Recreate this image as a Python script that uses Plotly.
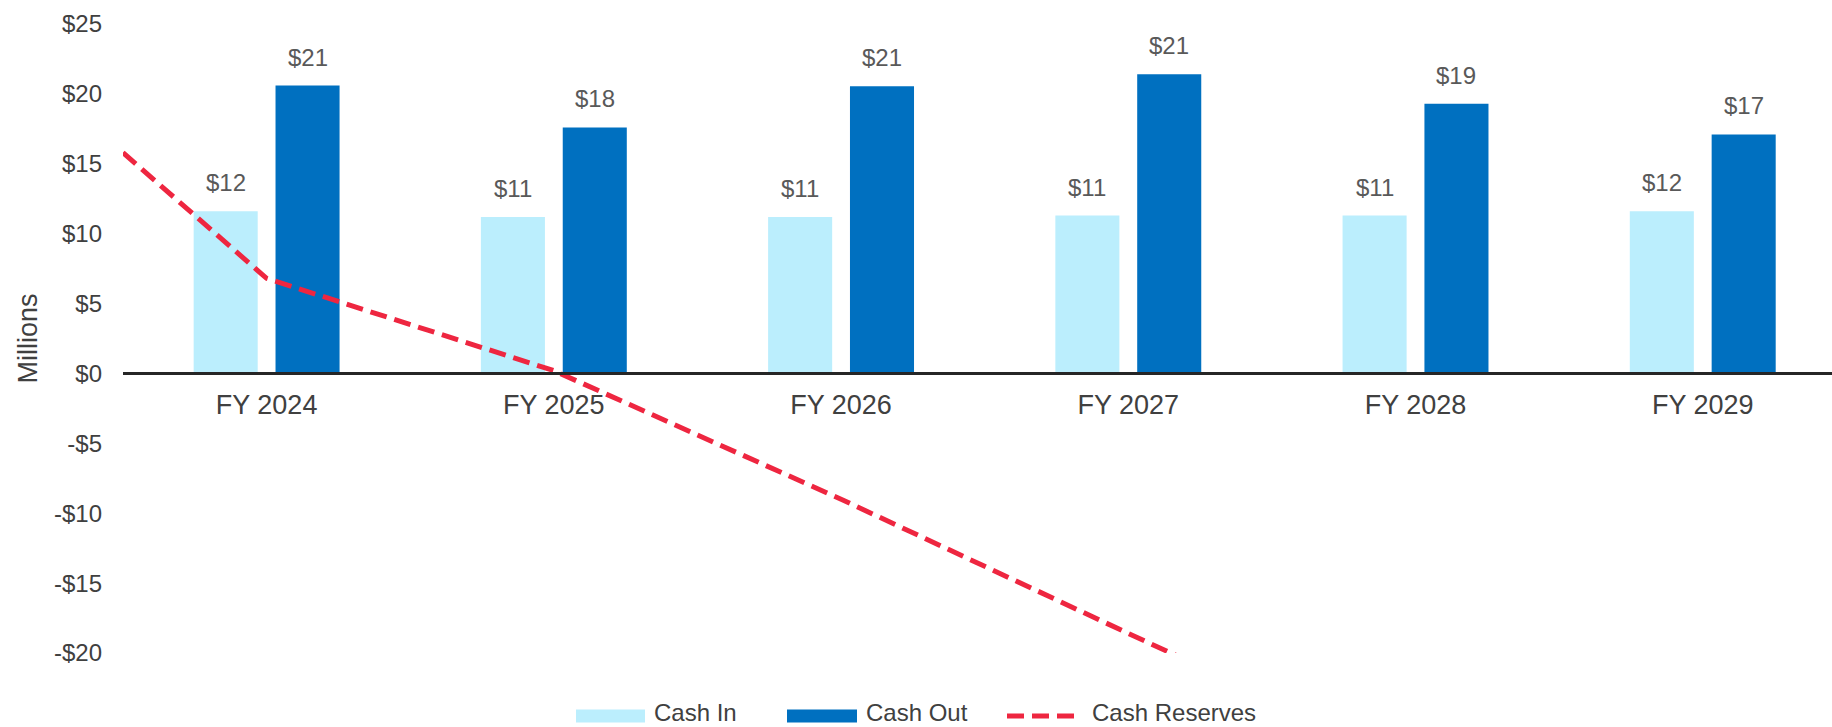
import plotly.graph_objects as go

# ---------------- data ----------------
categories = ["FY 2024", "FY 2025", "FY 2026", "FY 2027", "FY 2028", "FY 2029"]
cash_in = [11.6, 11.2, 11.2, 11.3, 11.3, 11.6]
cash_out = [20.6, 17.6, 20.55, 21.4, 19.3, 17.1]
reserves_x = [-0.5, 0, 1, 2, 3, 4, 5]
reserves = [15.8, 6.8, 0.2, -9.0, -18.6, -28.0, -37.5]
y_tick_vals = [-20, -15, -10, -5, 0, 5, 10, 15, 20, 25]
y_tick_text = ["-$20", "-$15", "-$10", "-$5", "$0", "$5", "$10", "$15", "$20", "$25"]
legend_names = ["Cash In", "Cash Out", "Cash Reserves"]

# ---------------- styles ----------------
W, H = 1832, 727
ML, MR, MT, MB = 123, 0, 23.5, 73.5
FONT = "Liberation Sans, Arial, sans-serif"
C_IN = "#BBEEFD"
C_OUT = "#0070C0"
C_RES = "#EE2640"
TXT = "#404040"
LBL = "#595959"
BAR_W = 0.223
OFF_IN = -0.254
OFF_OUT = 0.031
Y_MIN, Y_MAX = -20, 25

xs = list(range(len(categories)))

fig = go.Figure()
fig.add_trace(go.Bar(x=xs, y=cash_in, name=legend_names[0], marker=dict(color=C_IN, line=dict(width=0)),
                     width=BAR_W, offset=OFF_IN, showlegend=False))
fig.add_trace(go.Bar(x=xs, y=cash_out, name=legend_names[1], marker=dict(color=C_OUT, line=dict(width=0)),
                     width=BAR_W, offset=OFF_OUT, showlegend=False))
fig.add_trace(go.Scatter(x=reserves_x, y=reserves, name=legend_names[2], mode="lines",
                         line=dict(color=C_RES, width=5, dash="17px,8px"), showlegend=False))

annotations = []
for i, (a, b) in enumerate(zip(cash_in, cash_out)):
    for v, off in ((a, OFF_IN), (b, OFF_OUT)):
        annotations.append(dict(x=i + off + BAR_W / 2, y=v, xref="x", yref="y",
                                text="$%d" % int(v + 0.5), showarrow=False, yanchor="bottom",
                                yshift=13, font=dict(family=FONT, size=24, color=LBL)))

plot_w = W - ML - MR
plot_h = H - MT - MB

def px_x(p):
    return (p - ML) / plot_w

def px_y(p):
    return (H - MB - p) / plot_h

# y axis title
annotations.append(dict(x=px_x(27), y=0.5, xref="paper", yref="paper", text="Millions",
                        textangle=-90, showarrow=False, xanchor="center", yanchor="middle",
                        font=dict(family=FONT, size=27, color=TXT)))

# custom legend
shapes = []
leg_y = 716.5
txt_y = 713
shapes.append(dict(type="rect", xref="paper", yref="paper", x0=px_x(576), x1=px_x(645),
                   y0=px_y(710), y1=px_y(723), fillcolor=C_IN, line=dict(width=0)))
shapes.append(dict(type="rect", xref="paper", yref="paper", x0=px_x(787), x1=px_x(857),
                   y0=px_y(710), y1=px_y(723), fillcolor=C_OUT, line=dict(width=0)))
shapes.append(dict(type="line", xref="paper", yref="paper", x0=px_x(1007), x1=px_x(1076),
                   y0=px_y(leg_y), y1=px_y(leg_y), line=dict(color=C_RES, width=5, dash="17px,8px")))
for name, xl in zip(legend_names, (652, 864, 1090)):
    annotations.append(dict(x=px_x(xl), y=px_y(txt_y), xref="paper", yref="paper", text=name,
                            showarrow=False, xanchor="left", yanchor="middle",
                            font=dict(family=FONT, size=24, color=TXT)))

fig.update_layout(
    width=W, height=H,
    margin=dict(l=ML, r=MR, t=MT, b=MB, pad=0),
    paper_bgcolor="white", plot_bgcolor="white",
    barmode="overlay",
    showlegend=False,
    font=dict(family=FONT, color=TXT),
    annotations=annotations,
    shapes=shapes,
    xaxis=dict(range=[-0.5, 5.45], tickvals=xs, ticktext=categories, anchor="free",
               position=(0 - Y_MIN) / (Y_MAX - Y_MIN), showline=True, linecolor="#262626",
               linewidth=3, showgrid=False, zeroline=False, ticks="",
               tickfont=dict(family=FONT, size=27, color=TXT), ticklabelstandoff=6),
    yaxis=dict(range=[Y_MIN, Y_MAX], tickvals=y_tick_vals, ticktext=y_tick_text,
               showgrid=False, zeroline=False, showline=False, ticks="",
               tickfont=dict(family=FONT, size=24, color=TXT), ticklabelstandoff=20),
)

fig.write_html("out.html", config={"displayModeBar": False},
               post_script="document.body.style.margin='0';document.body.style.overflow='hidden';")
